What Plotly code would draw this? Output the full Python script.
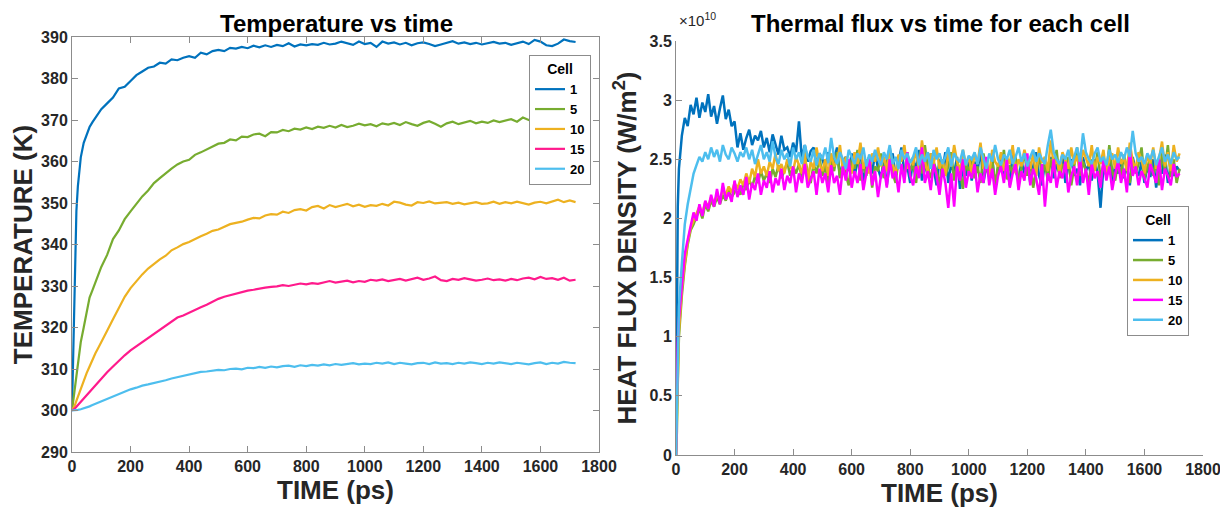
import plotly.graph_objects as go

# the page body adds an 8 px margin; the figure is sized to fill the rest of the window
OX, OY = 8, 8
W, H = 1220, 507

cells = ["1", "5", "10", "15", "20"]

# ---------------- Left panel: temperature (K) vs time (ps) ----------------
tL = [0, 5, 10, 15, 20, 30, 40, 50, 60, 70, 80, 90, 100] + list(range(120, 1721, 20))

T1 = [300, 318, 336, 348, 354, 361, 364.5, 366.5, 368.3, 369.5, 370.5, 371.8, 372.6,
      374.0, 375.4, 377.6, 378.0, 379.4, 380.8, 381.7, 382.6, 382.9, 383.8,
      383.6, 384.6, 384.4, 385.0, 385.4, 385.0, 386.2, 385.8, 386.6, 386.9,
      386.6, 387.4, 387.2, 387.6, 387.3, 387.9, 387.5, 388.0, 387.6, 388.1,
      387.8, 388.5, 387.7, 388.2, 388.0, 388.3, 388.1, 388.6, 388.2, 388.4,
      388.9, 388.5, 388.1, 388.9, 388.3, 388.6, 387.6, 388.9, 388.4, 388.7,
      388.2, 388.6, 388.0, 388.5, 388.7, 388.3, 387.8, 388.2, 388.6, 389.0,
      388.4, 388.7, 388.3, 388.6, 388.2, 388.5, 388.8, 388.4, 388.6, 388.1,
      388.5, 388.9, 388.3, 389.3, 388.9, 388.0, 387.8, 388.4, 389.4, 389.0,
      388.8]

T5 = [300, 303, 306, 309, 312, 316.5, 320, 323.8, 327.2, 329, 331, 332.8, 334.6,
      337.5, 341.3, 343.4, 346.1, 348.0, 349.8, 351.6, 353.0, 354.8, 356.0,
      357.2, 358.3, 359.3, 360.0, 360.4, 361.6, 362.2, 362.9, 363.6, 364.3,
      364.5, 365.3, 365.1, 366.0, 365.9, 366.5, 366.7, 366.1, 367.1, 367.0,
      367.6, 367.3, 367.9, 367.7, 368.2, 367.8, 368.4, 368.1, 368.6, 368.2,
      368.8, 368.3, 368.6, 369.1, 368.7, 369.0, 368.5, 369.2, 368.9, 369.3,
      368.8, 369.5, 369.0, 368.6, 369.3, 369.7, 369.1, 368.4, 369.2, 369.6,
      369.0, 369.4, 369.8, 369.2, 369.6, 369.3, 369.9, 369.5, 369.8, 370.2,
      369.6, 370.6, 370.0, 369.6, 369.9, 370.2, 369.7, 369.3, 370.1, 370.4,
      370.3]

T10 = [300, 300.5, 301.3, 302.3, 303.3, 305.3, 307.2, 309.0, 310.6, 312.3, 313.8, 315.1, 316.4,
       319.2, 322.0, 324.8, 327.4, 329.5, 331.2, 332.8, 334.2, 335.4, 336.4,
       337.3, 338.6, 339.3, 340.1, 340.6, 341.4, 342.0, 342.6, 343.3, 343.6,
       344.2, 344.9, 345.2, 345.5, 346.0, 346.4, 346.3, 347.0, 347.3, 347.2,
       347.9, 347.6, 348.3, 348.5, 348.2, 349.0, 349.3, 348.7, 349.5, 349.0,
       349.4, 349.8, 349.2, 349.6, 349.1, 349.5, 349.3, 349.8, 349.4, 350.3,
       350.1, 349.6, 349.4, 350.2, 350.0, 350.4, 349.9, 350.1, 350.2, 349.8,
       350.1, 349.7, 350.0, 350.2, 349.8, 349.9, 350.3, 349.8, 350.2, 349.9,
       350.3, 350.0, 349.6, 350.1, 350.3, 349.9, 350.4, 350.8, 350.2, 350.6,
       350.2]

T15 = [300, 300.2, 300.5, 300.9, 301.3, 302.1, 302.9, 303.7, 304.5, 305.3, 306.1, 306.9, 307.6,
       309.2, 310.6, 312.0, 313.3, 314.5, 315.5, 316.6, 317.6, 318.6, 319.6,
       320.6, 321.6, 322.4, 322.9, 323.6, 324.3, 324.9, 325.5, 326.2, 326.9,
       327.4, 327.8, 328.1, 328.5, 328.9, 329.1, 329.4, 329.6, 329.8, 329.9,
       330.2, 330.0, 330.3, 330.6, 330.4, 330.7, 330.5, 330.9, 331.2, 330.8,
       331.0, 331.3, 330.9, 331.2, 331.0, 331.5, 331.3, 331.6, 331.2, 331.4,
       331.7, 331.3, 331.6, 332.0, 331.5, 331.8, 332.3, 331.4, 331.2, 331.7,
       331.5, 331.9, 331.6, 331.3, 331.5, 331.8, 331.4, 331.6, 331.3, 331.7,
       331.4, 331.8, 332.0, 331.6, 332.2, 331.7, 331.9, 331.5, 332.0, 331.3,
       331.5]

T20 = [300, 300.0, 300.05, 300.1, 300.15, 300.3, 300.5, 300.7, 301.0, 301.3, 301.6, 301.9, 302.2,
       302.8, 303.4, 304.0, 304.6, 305.1, 305.5, 306.0, 306.3, 306.6, 307.0,
       307.3, 307.7, 308.0, 308.4, 308.7, 309.0, 309.3, 309.4, 309.6, 309.8,
       309.7, 310.0, 310.1, 309.9, 310.3, 310.2, 310.5, 310.3, 310.6, 310.4,
       310.7, 310.8, 310.5, 310.9, 310.7, 311.0, 310.8, 311.1, 310.9, 311.2,
       311.0, 311.2, 311.4, 311.1, 311.3, 311.2, 311.5, 311.3, 311.6, 311.2,
       311.5, 311.3, 311.1, 311.4, 311.5, 311.2, 311.6, 311.3, 311.4, 311.2,
       311.5, 311.3, 311.6, 311.4, 311.2, 311.5, 311.3, 311.6, 311.4, 311.2,
       311.5, 311.3, 311.1, 311.4, 311.6, 311.2, 311.5, 311.3, 311.7, 311.5,
       311.4]

# ---------------- Right panel: heat flux density (x1e10 W/m^2) vs time ----------------
tR = [0, 3, 6] + list(range(10, 1721, 10))

F1 = [0, 1.3, 2.1,
      2.42, 2.7, 2.85, 2.78, 2.96, 2.88, 3.02, 2.85, 2.98, 2.9,
      3.05, 2.86, 2.95, 2.8, 2.93, 3.04, 2.84, 2.92, 2.78, 2.82,
      2.6, 2.72, 2.58, 2.68, 2.75, 2.62, 2.7, 2.66, 2.74, 2.6,
      2.68, 2.56, 2.71, 2.62, 2.54, 2.7, 2.58, 2.6, 2.52, 2.64,
      2.56, 2.82, 2.5, 2.62, 2.48, 2.57, 2.6, 2.45, 2.55, 2.5,
      2.42, 2.56, 2.38, 2.5, 2.6, 2.35, 2.48, 2.52, 2.4, 2.55,
      2.36, 2.48, 2.58, 2.3, 2.44, 2.52, 2.38, 2.56, 2.42, 2.34,
      2.5, 2.28, 2.46, 2.55, 2.35, 2.48, 2.6, 2.38, 2.44, 2.3,
      2.52, 2.4, 2.58, 2.32, 2.46, 2.36, 2.55, 2.42, 2.28, 2.5,
      2.4, 2.56, 2.3, 2.46, 2.38, 2.52, 2.25, 2.44, 2.36, 2.5,
      2.32, 2.48, 2.4, 2.58, 2.3, 2.45, 2.35, 2.52, 2.26, 2.42,
      2.5, 2.34, 2.46, 2.28, 2.55, 2.4, 2.33, 2.48, 2.38, 2.5,
      2.3, 2.44, 2.56, 2.36, 2.28, 2.48, 2.4, 2.52, 2.34, 2.46,
      2.38, 2.55, 2.3, 2.44, 2.5, 2.36, 2.42, 2.28, 2.52, 2.4,
      2.46, 2.32, 2.5, 2.38, 2.09, 2.44, 2.36, 2.54, 2.3, 2.45,
      2.38, 2.5, 2.34, 2.46, 2.28, 2.52, 2.4, 2.36, 2.48, 2.3,
      2.44, 2.35, 2.5, 2.26, 2.42, 2.38, 2.54, 2.3, 2.46, 2.36,
      2.44, 2.4]

F5 = [0, 0.2, 0.6,
      1.0, 1.35, 1.6, 1.78, 1.9, 1.95, 2.02, 2.08, 2.0, 2.12,
      2.06, 2.15, 2.1, 2.18, 2.12, 2.2, 2.15, 2.24, 2.18, 2.22,
      2.28, 2.2, 2.3, 2.24, 2.33, 2.26, 2.36, 2.3, 2.4, 2.32,
      2.38, 2.3, 2.42, 2.35, 2.45, 2.34, 2.4, 2.48, 2.36, 2.44,
      2.38, 2.46, 2.34, 2.5, 2.4, 2.3, 2.46, 2.38, 2.52, 2.36,
      2.44, 2.3, 2.5, 2.4, 2.56, 2.34, 2.46, 2.38, 2.28, 2.5,
      2.42, 2.58, 2.32, 2.46, 2.36, 2.52, 2.26, 2.44, 2.4, 2.55,
      2.34, 2.48, 2.6, 2.38, 2.3, 2.5, 2.42, 2.35, 2.56, 2.4,
      2.46, 2.3, 2.52, 2.38, 2.62, 2.42, 2.34, 2.48, 2.4, 2.28,
      2.5, 2.36, 2.44, 2.56, 2.32, 2.46, 2.4, 2.25, 2.48, 2.38,
      2.52, 2.34, 2.44, 2.3, 2.55, 2.42, 2.36, 2.5, 2.28, 2.46,
      2.4, 2.58, 2.33, 2.45, 2.38, 2.52, 2.3, 2.44, 2.56, 2.36,
      2.48, 2.26, 2.42, 2.54, 2.36, 2.46, 2.32, 2.5, 2.4, 2.58,
      2.34, 2.46, 2.4, 2.52, 2.28, 2.44, 2.6, 2.36, 2.48, 2.4,
      2.3, 2.5, 2.42, 2.56, 2.34, 2.46, 2.38, 2.62, 2.4, 2.32,
      2.48, 2.36, 2.54, 2.42, 2.3, 2.5, 2.38, 2.46, 2.6, 2.34,
      2.44, 2.52, 2.36, 2.48, 2.28, 2.56, 2.4, 2.62, 2.35, 2.5,
      2.3, 2.42]

F10 = [0, 0.25, 0.65,
       1.05, 1.4, 1.62, 1.8, 1.92, 1.98, 2.05, 2.1, 2.04, 2.14,
       2.1, 2.18, 2.13, 2.2, 2.16, 2.24, 2.2, 2.27, 2.22, 2.3,
       2.25, 2.33, 2.28, 2.38, 2.3, 2.42, 2.35, 2.5, 2.38, 2.44,
       2.36, 2.48, 2.42, 2.55, 2.4, 2.46, 2.38, 2.5, 2.44, 2.4,
       2.52, 2.45, 2.38, 2.56, 2.3, 2.48, 2.42, 2.6, 2.46, 2.4,
       2.5, 2.36, 2.55, 2.44, 2.48, 2.62, 2.4, 2.52, 2.45, 2.38,
       2.56, 2.46, 2.64, 2.42, 2.5, 2.38, 2.55, 2.48, 2.6, 2.44,
       2.52, 2.4, 2.58, 2.46, 2.36, 2.54, 2.48, 2.62, 2.42, 2.5,
       2.45, 2.58, 2.4, 2.66, 2.48, 2.38, 2.55, 2.46, 2.6, 2.42,
       2.5, 2.36, 2.56, 2.44, 2.62, 2.48, 2.4, 2.58, 2.45, 2.52,
       2.38, 2.55, 2.46, 2.64, 2.42, 2.5, 2.36, 2.58, 2.48, 2.44,
       2.56, 2.4, 2.52, 2.46, 2.62, 2.38, 2.5, 2.44, 2.58, 2.48,
       2.42, 2.55, 2.36, 2.6, 2.47, 2.52, 2.4, 2.66, 2.45, 2.5,
       2.38, 2.56, 2.48, 2.42, 2.6, 2.46, 2.53, 2.4, 2.58, 2.5,
       2.44, 2.62, 2.4, 2.52, 2.46, 2.58, 2.36, 2.5, 2.55, 2.42,
       2.6, 2.46, 2.52, 2.4, 2.64, 2.48, 2.42, 2.56, 2.5, 2.38,
       2.54, 2.46, 2.6, 2.42, 2.5, 2.65, 2.44, 2.56, 2.4, 2.62,
       2.48, 2.55]

F15 = [0, 0.6, 0.95,
       1.15, 1.45, 1.7, 1.82, 1.95, 2.05, 1.98, 2.12, 2.02, 2.15,
       2.08, 2.2, 2.1, 2.25, 2.12, 2.3, 2.16, 2.22, 2.14, 2.32,
       2.18, 2.28, 2.2, 2.35, 2.16, 2.3, 2.24, 2.38, 2.2, 2.32,
       2.26, 2.4, 2.22, 2.34, 2.28, 2.42, 2.24, 2.36, 2.3, 2.44,
       2.22, 2.38, 2.3, 2.46, 2.26, 2.34, 2.4, 2.2, 2.42, 2.3,
       2.38, 2.22, 2.45, 2.3, 2.36, 2.2, 2.44, 2.32, 2.5, 2.26,
       2.4, 2.3, 2.46, 2.24, 2.38, 2.52, 2.28, 2.4, 2.18, 2.36,
       2.44, 2.26, 2.5, 2.34, 2.4, 2.22, 2.46, 2.3, 2.56, 2.36,
       2.28, 2.44, 2.34, 2.6, 2.3, 2.4, 2.24, 2.46, 2.36, 2.2,
       2.42, 2.3, 2.09, 2.38, 2.1, 2.44, 2.32, 2.5, 2.26, 2.4,
       2.34, 2.46, 2.22, 2.38, 2.3, 2.52, 2.28, 2.42, 2.2, 2.36,
       2.44, 2.3, 2.5, 2.26, 2.38, 2.46, 2.24, 2.4, 2.32, 2.55,
       2.28, 2.42, 2.34, 2.2, 2.46, 2.1, 2.38, 2.3, 2.5, 2.26,
       2.4, 2.34, 2.48, 2.22, 2.36, 2.44, 2.28, 2.52, 2.3, 2.42,
       2.2, 2.46, 2.34, 2.4, 2.26, 2.5, 2.32, 2.44, 2.24, 2.38,
       2.48, 2.3, 2.42, 2.22, 2.58, 2.36, 2.44, 2.28, 2.4, 2.34,
       2.26, 2.46, 2.38, 2.3, 2.5, 2.24, 2.42, 2.36, 2.28, 2.46,
       2.35, 2.38]

F20 = [0, 0.35, 0.85,
       1.25, 1.62, 1.95, 2.12, 2.26, 2.38, 2.45, 2.52, 2.48, 2.56,
       2.5, 2.6, 2.52, 2.58, 2.48, 2.62, 2.54, 2.5, 2.6, 2.55,
       2.48, 2.56, 2.52, 2.6, 2.5, 2.58, 2.46, 2.55, 2.62, 2.5,
       2.56, 2.48, 2.65, 2.52, 2.46, 2.58, 2.5, 2.55, 2.44, 2.6,
       2.5, 2.56, 2.46, 2.62, 2.52, 2.48, 2.58, 2.45, 2.55, 2.5,
       2.6, 2.47, 2.68, 2.52, 2.46, 2.56, 2.5, 2.42, 2.58, 2.52,
       2.46, 2.55, 2.5, 2.6, 2.44, 2.54, 2.48, 2.58, 2.5, 2.45,
       2.56, 2.5, 2.62, 2.46, 2.52, 2.42, 2.58, 2.5, 2.55, 2.47,
       2.52, 2.6, 2.45, 2.54, 2.48, 2.56, 2.42, 2.58, 2.5, 2.55,
       2.46, 2.52, 2.6, 2.44, 2.55, 2.5, 2.48, 2.58, 2.45, 2.53,
       2.5, 2.56, 2.46, 2.6, 2.5, 2.42, 2.55, 2.48, 2.62, 2.5,
       2.45, 2.54, 2.5, 2.58, 2.46, 2.52, 2.6, 2.48, 2.55, 2.44,
       2.52, 2.58, 2.48, 2.55, 2.5, 2.46, 2.62, 2.75, 2.56, 2.5,
       2.46, 2.54, 2.5, 2.58, 2.44, 2.52, 2.6, 2.48, 2.72, 2.56,
       2.5, 2.46, 2.55, 2.6, 2.48, 2.52, 2.45, 2.58, 2.5, 2.54,
       2.47, 2.56, 2.5, 2.6, 2.52, 2.74, 2.55, 2.48, 2.52, 2.46,
       2.55, 2.5, 2.58, 2.45, 2.52, 2.6, 2.48, 2.54, 2.46, 2.56,
       2.5, 2.52]

x_ticks = [0, 200, 400, 600, 800, 1000, 1200, 1400, 1600, 1800]
tempTicks = [290, 300, 310, 320, 330, 340, 350, 360, 370, 380, 390]
fluxTicks = [0, 0.5, 1, 1.5, 2, 2.5, 3, 3.5]

colorsL = ["#0072BD", "#77AC30", "#EDB120", "#FF1A8C", "#4DBEEE"]
colorsR = ["#0072BD", "#77AC30", "#EDB120", "#FF00FF", "#4DBEEE"]


# screenshot pixel -> paper fraction (accounts for the page's 8 px body margin)
def fx(p):
    return (p - OX) / W


def fy(p):
    return 1 - (p - OY) / H


TXT = "#262626"
AX = "#8c8c8c"
SANS = "Liberation Sans, Arial, Helvetica, sans-serif"

fig = go.Figure()
for name, ys, c in zip(cells, [T1, T5, T10, T15, T20], colorsL):
    fig.add_trace(go.Scatter(x=tL, y=ys, mode="lines", name=name,
                             line=dict(color=c, width=2.2),
                             xaxis="x", yaxis="y", legend="legend"))
for name, ys, c in zip(cells, [F1, F5, F10, F15, F20], colorsR):
    fig.add_trace(go.Scatter(x=tR, y=ys, mode="lines", name=name,
                             line=dict(color=c, width=2.5),
                             xaxis="x2", yaxis="y2", legend="legend2"))

tickfont = dict(family=SANS, size=16, color=TXT, weight="bold")
titlefont = dict(family=SANS, size=26, color=TXT, weight="bold")

common = dict(showgrid=False, zeroline=False, showline=True, linecolor=AX,
              linewidth=1, ticks="inside", ticklen=6, tickcolor=AX,
              tickfont=tickfont, automargin=False)

legfont = dict(family=SANS, size=13, color="#000", weight="bold")
legtitle = dict(text="Cell", side="top center",
                font=dict(family=SANS, size=14, color="#000", weight="bold"))

fig.update_layout(
    width=W, height=H,
    margin=dict(l=0, r=0, t=0, b=0),
    paper_bgcolor="white", plot_bgcolor="white",
    xaxis=dict(domain=[fx(72), fx(599)], range=[0, 1800], tickvals=x_ticks,
               anchor="y", mirror="ticks",
               title=dict(text="TIME (ps)", font=titlefont, standoff=4), **common),
    yaxis=dict(domain=[fy(452), fy(37)], range=[290, 390], tickvals=tempTicks,
               anchor="x", mirror="ticks",
               title=dict(text="TEMPERATURE (K)", font=titlefont, standoff=6), **common),
    xaxis2=dict(domain=[fx(676), fx(1203)], range=[0, 1800], tickvals=x_ticks,
                anchor="y2",
                title=dict(text="TIME (ps)", font=titlefont, standoff=4), **common),
    yaxis2=dict(domain=[fy(455), fy(41)], range=[0, 3.5], tickvals=fluxTicks,
                anchor="x2",
                title=dict(text="HEAT FLUX DENSITY (W/m<sup>2</sup>)", font=titlefont, standoff=5),
                **common),
    legend=dict(x=fx(591), xanchor="right", y=fy(55), yanchor="top",
                bgcolor="white", bordercolor=AX, borderwidth=1,
                font=legfont, title=legtitle, itemwidth=30, tracegroupgap=0),
    legend2=dict(x=fx(1189), xanchor="right", y=fy(206), yanchor="top",
                 bgcolor="white", bordercolor=AX, borderwidth=1,
                 font=legfont, title=legtitle, itemwidth=30, tracegroupgap=0),
    showlegend=True,
)

annotations = [
    dict(text="Temperature vs time", x=fx(336), y=1.0, xref="paper", yref="paper",
         xanchor="center", yanchor="top", showarrow=False,
         font=dict(family=SANS, size=24, color="#000", weight="bold")),
    dict(text="Thermal flux vs time for each cell", x=fx(940), y=1.0, xref="paper", yref="paper",
         xanchor="center", yanchor="top", showarrow=False,
         font=dict(family=SANS, size=24, color="#000", weight="bold")),
    dict(text="×10<sup>10</sup>", x=fx(677), y=1.0, xref="paper", yref="paper",
         xanchor="left", yanchor="top", showarrow=False,
         font=dict(family=SANS, size=15, color=TXT)),
]
fig.update_layout(annotations=annotations)

# separator lines under the legend titles
fig.update_layout(shapes=[
    dict(type="line", xref="paper", yref="paper", x0=fx(533), x1=fx(591), y0=fy(77), y1=fy(77),
         line=dict(color=AX, width=1)),
    dict(type="line", xref="paper", yref="paper", x0=fx(1131), x1=fx(1189), y0=fy(228), y1=fy(228),
         line=dict(color=AX, width=1)),
])

fig.write_html("out.html")
